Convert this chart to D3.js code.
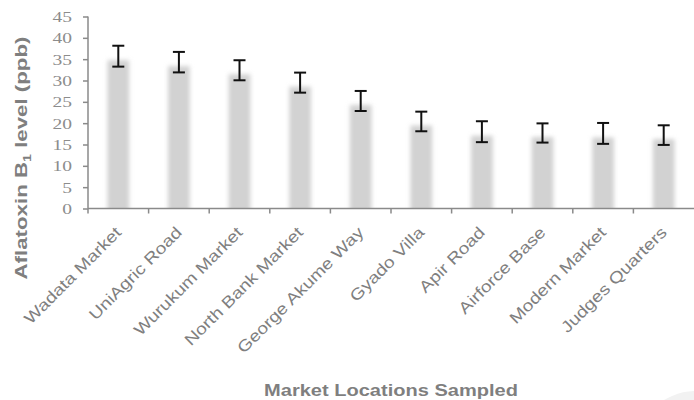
<!DOCTYPE html>
<html>
<head>
<meta charset="utf-8">
<script src="https://cdn.jsdelivr.net/npm/d3@7/dist/d3.min.js"></script>
<style>
  html, body { margin: 0; padding: 0; background: #fff; }
  svg { display: block; }
</style>
</head>
<body>
<svg id="chart" width="694" height="400"></svg>
<script>
// Aflatoxin B1 level by market location (mean ± error)
const locations = ["Wadata Market", "UniAgric Road", "Wurukum Market", "North Bank Market",
  "George Akume Way", "Gyado Villa", "Apir Road", "Airforce Base", "Modern Market", "Judges Quarters"];
const levels = [35.7, 34.3, 32.4, 29.5, 25.2, 20.4, 18.0, 17.7, 17.6, 17.2];
const errors = [2.45, 2.4, 2.35, 2.35, 2.35, 2.3, 2.45, 2.25, 2.45, 2.3];
const yTicks = [0, 5, 10, 15, 20, 25, 30, 35, 40, 45];

const svg = d3.select("#chart");
const plotLeft = 88, plotRight = 694, plotTop = 16.5, plotBottom = 208.5;

const x = d3.scaleBand().domain(locations).range([plotLeft, plotRight]).padding(0);
const y = d3.scaleLinear().domain([0, 45]).range([plotBottom, plotTop]);

const defs = svg.append("defs");
defs.append("filter").attr("id", "soft")
  .attr("x", "-50%").attr("y", "-20%").attr("width", "200%").attr("height", "140%")
  .append("feGaussianBlur").attr("stdDeviation", 2);
defs.append("clipPath").attr("id", "plot")
  .append("rect").attr("x", plotLeft).attr("y", 0)
  .attr("width", plotRight - plotLeft).attr("height", plotBottom);

// faint decorative circle in the lower-right corner
svg.append("circle").attr("cx", 696).attr("cy", 452).attr("r", 61).attr("fill", "#f2f2f2");

// bars with soft edges
const barHalf = x.bandwidth() * 0.18;
svg.append("g").attr("clip-path", "url(#plot)")
  .selectAll("rect").data(locations).join("rect")
  .attr("x", d => x(d) + x.bandwidth() / 2 - barHalf)
  .attr("width", barHalf * 2)
  .attr("y", (d, i) => y(levels[i]) + 4)
  .attr("height", (d, i) => y(0) - y(levels[i]))
  .attr("fill", "#d2d2d2")
  .attr("filter", "url(#soft)");

// y axis
const yAxis = svg.append("g").attr("transform", `translate(${plotLeft},0)`)
  .call(d3.axisLeft(y).tickValues(yTicks).tickSize(5).tickPadding(10).tickFormat(d3.format("d")));
yAxis.select(".domain").attr("stroke", "#8a8a8a").attr("stroke-width", 1.5)
  .attr("d", `M0,${plotTop}V${plotBottom}`);
yAxis.selectAll(".tick line").attr("stroke", "#8a8a8a").attr("stroke-width", 1.5);
yAxis.selectAll(".tick text")
  .attr("font-family", "'Liberation Serif', 'Times New Roman', serif")
  .attr("font-size", 15).attr("fill", "#8c8c8c").attr("dy", "0.34em")
  .attr("x", 0).attr("transform", "translate(-16,0) scale(1.3,1)");

// x axis with ticks at category boundaries
const xAxis = svg.append("g");
xAxis.append("line").attr("x1", plotLeft).attr("x2", plotRight)
  .attr("y1", plotBottom).attr("y2", plotBottom)
  .attr("stroke", "#8a8a8a").attr("stroke-width", 1.5);
const bounds = locations.map(d => x(d));
xAxis.selectAll("line.tk").data(bounds).join("line").attr("class", "tk")
  .attr("x1", d => d).attr("x2", d => d).attr("y1", plotBottom).attr("y2", plotBottom + 5)
  .attr("stroke", "#8a8a8a").attr("stroke-width", 1.5);
xAxis.selectAll("text").data(locations).join("text")
  .attr("transform", d => `translate(${x(d) + x.bandwidth() / 2 + 4},${plotBottom + 25}) rotate(-45) scale(1.2,1)`)
  .attr("text-anchor", "end")
  .attr("font-family", "'Liberation Sans', Arial, sans-serif")
  .attr("font-size", 16).attr("fill", "#7f7f7f")
  .text(d => d);

// error bars
const cap = 6;
const eb = svg.append("g").attr("stroke", "#111").attr("stroke-width", 2);
locations.forEach((d, i) => {
  const cx = x(d) + x.bandwidth() / 2;
  const hi = y(levels[i] + errors[i]), lo = y(levels[i] - errors[i]);
  eb.append("line").attr("x1", cx).attr("x2", cx).attr("y1", hi).attr("y2", lo);
  eb.append("line").attr("x1", cx - cap).attr("x2", cx + cap).attr("y1", hi).attr("y2", hi);
  eb.append("line").attr("x1", cx - cap).attr("x2", cx + cap).attr("y1", lo).attr("y2", lo);
});

// axis titles
const yTitle = svg.append("text")
  .attr("text-anchor", "middle")
  .attr("font-family", "'Liberation Sans', Arial, sans-serif")
  .attr("font-weight", "bold").attr("font-size", 17).attr("fill", "#7f7f7f");
yTitle.append("tspan").text("Aflatoxin B");
yTitle.append("tspan").attr("font-size", 11).attr("dy", 4).text("1");
yTitle.append("tspan").attr("dy", -4).text(" level (ppb)");
const yTitleScale = 243 / yTitle.node().getComputedTextLength();
yTitle.attr("transform", `translate(27,158) rotate(-90) scale(${yTitleScale},1)`);

const xTitle = svg.append("text")
  .attr("text-anchor", "middle")
  .attr("font-family", "'Liberation Sans', Arial, sans-serif")
  .attr("font-weight", "bold").attr("font-size", 17).attr("fill", "#7f7f7f")
  .text("Market Locations Sampled");
const xTitleScale = 254 / xTitle.node().getComputedTextLength();
xTitle.attr("transform", `translate(391,396) scale(${xTitleScale},1)`);
</script>
</body>
</html>
